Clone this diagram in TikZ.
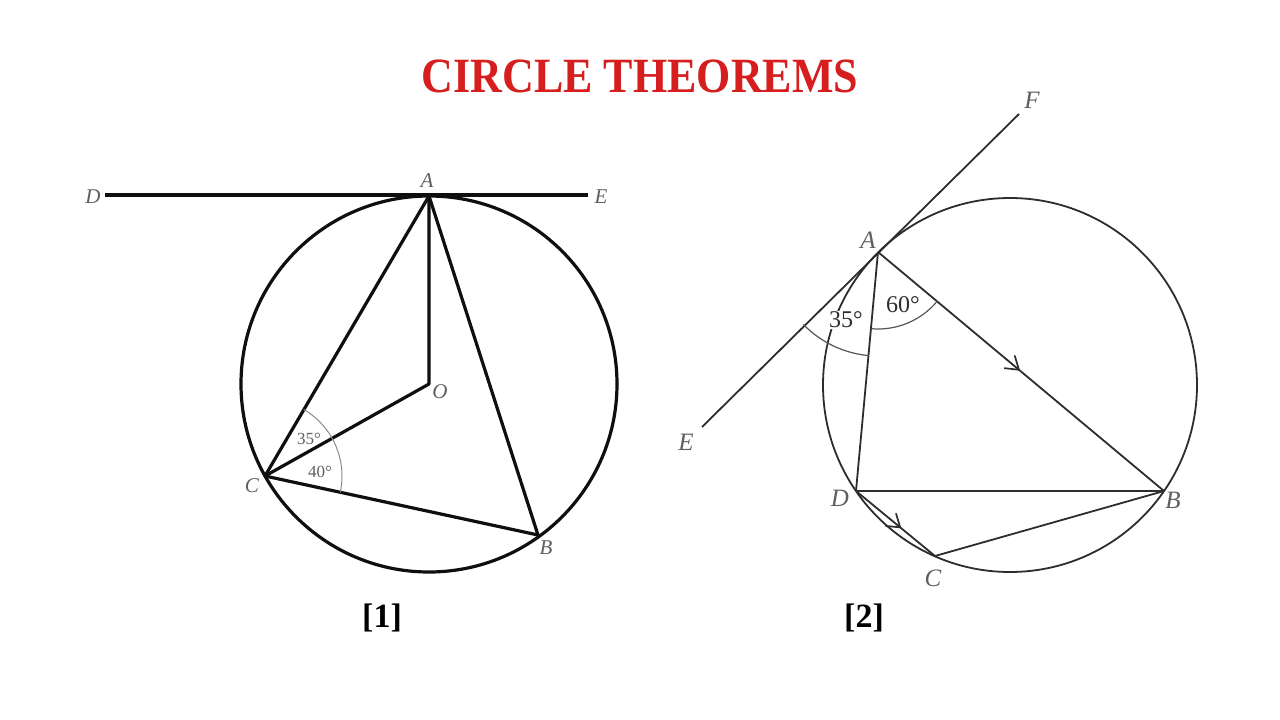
\documentclass[tikz,border=0pt]{standalone}
\usepackage{fontspec}
\setmainfont{Liberation Serif}
\usetikzlibrary{arrows.meta,decorations.markings}
\definecolor{titlered}{RGB}{214,30,30}
\definecolor{inkone}{RGB}{15,15,15}
\definecolor{inktwo}{RGB}{45,45,45}
\definecolor{labgray}{RGB}{95,95,95}
\definecolor{arcgray}{RGB}{140,140,140}
\begin{document}
\begin{tikzpicture}[x=1pt,y=-1pt,
  lineone/.style={line width=3.2pt, draw=inkone},
  linetwo/.style={line width=1.8pt, draw=inktwo},
  anglearc/.style={line width=1pt, draw=arcgray},
  anglearctwo/.style={line width=1.2pt, draw=inktwo!80},
  letterone/.style={font=\fontsize{21}{24}\selectfont\itshape, text=labgray, inner sep=0pt},
  lettertwo/.style={font=\fontsize{25}{28}\selectfont\itshape, text=labgray, inner sep=0pt},
  degone/.style={font=\fontsize{17}{20}\selectfont, text=labgray, inner sep=0pt},
  degtwo/.style={font=\fontsize{24}{27}\selectfont, text=inktwo, inner sep=1pt},
  caption/.style={font=\fontsize{34}{38}\selectfont\bfseries, text=black, inner sep=0pt},
  midarrow/.style={postaction={decorate}, decoration={markings,
    mark=at position #1 with {\draw[line width=1.7pt, draw=inktwo, line cap=round, line join=round]
      (-11pt,-8pt) -- (1pt,0pt) -- (-11pt,8pt);}}}
]
\useasboundingbox (0,0) rectangle (1280,720);
\fill[white] (0,0) rectangle (1280,720);

% title
\node[font=\fontsize{44}{48}\selectfont\bfseries, text=titlered] (title) at (640,76)
  {\scalebox{1}[1.12]{CIRCLE THEOREMS}};

% ---------- diagram 1 ----------
\coordinate (O1) at (429,384);
\coordinate (A1) at (429,196);
\coordinate (C1) at (265,476);
\coordinate (B1) at (538,535);
\coordinate (D1) at (105,195);
\coordinate (E1) at (588,195);

\draw[lineone] (O1) circle[radius=188];
\draw[line width=4pt, draw=inkone] (D1) -- (E1);
\draw[lineone, line join=round] (A1) -- (O1) -- (C1);
\draw[lineone, line join=round] (C1) -- (A1) -- (B1) -- cycle;
\draw[anglearc] (C1) ++(-59.8:77) arc[start angle=-59.8, end angle=12.2, radius=77];

\node[letterone] (lD1) at (93,197) {D};
\node[letterone] (lE1) at (601,197) {E};
\node[letterone] (lA1) at (427,181) {A};
\node[letterone] (lO1) at (440,392) {O};
\node[letterone] (lC1) at (252,486) {C};
\node[letterone] (lB1) at (546,548) {B};
\node[degone] (a35) at (309,439) {35°};
\node[degone] (a40) at (320,472) {40°};

% ---------- diagram 2 ----------
\coordinate (O2) at (1010,385);
\coordinate (A2) at (878,252);
\coordinate (D2) at (856,491);
\coordinate (B2) at (1164,491);
\coordinate (C2) at (935,556);
\coordinate (F2) at (1019,114);
\coordinate (E2) at (702,427);

\draw[linetwo] (O2) circle[radius=187];
\draw[linetwo] (E2) -- (F2);
\draw[linetwo] (A2) -- (D2);
\draw[linetwo, midarrow=0.49] (A2) -- (B2);
\draw[linetwo] (D2) -- (B2);
\draw[linetwo, midarrow=0.55] (D2) -- (C2);
\draw[linetwo] (C2) -- (B2);
\draw[anglearctwo] (A2) ++(95:104) arc[start angle=95, end angle=135.8, radius=104];
\draw[anglearctwo] (A2) ++(40:77) arc[start angle=40, end angle=95, radius=77];

\node[degtwo, fill=white] (b35) at (846,320) {35°};
\node[degtwo] (b60) at (903,305) {60°};

\node[lettertwo] (lF2) at (1032,100) {F};
\node[lettertwo] (lA2) at (868,240) {A};
\node[lettertwo] (lE2) at (686,442) {E};
\node[lettertwo] (lD2) at (840,498) {D};
\node[lettertwo] (lB2) at (1173,500) {B};
\node[lettertwo] (lC2) at (933,578) {C};

% captions
\node[caption] (cap1) at (382,618) {[1]};
\node[caption] (cap2) at (864,618) {[2]};
\end{tikzpicture}
\end{document}
